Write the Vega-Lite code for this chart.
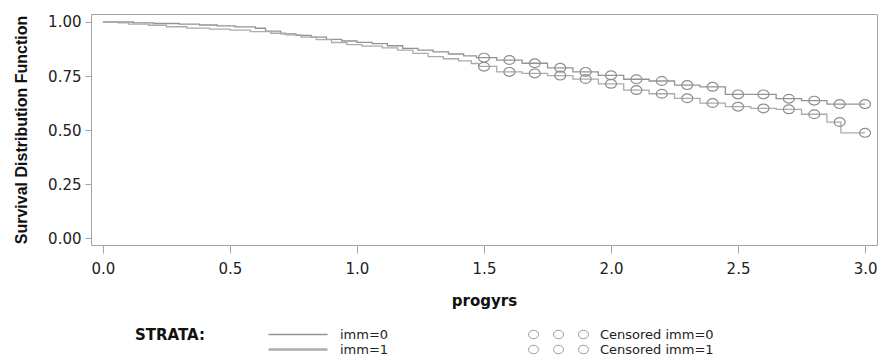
{
  "$schema": "https://vega.github.io/schema/vega-lite/v6.json",
  "width": 786,
  "height": 231,
  "autosize": {"type": "none"},
  "padding": {"left": 91, "top": 14, "right": 2, "bottom": 111},
  "background": "white",
  "config": {
    "view": {"stroke": "#a3a3b0", "strokeWidth": 1},
    "axis": {
      "domain": false,
      "grid": false,
      "tickColor": "#a3a3b0",
      "labelFont": "DejaVu Sans",
      "labelFontSize": 15,
      "labelColor": "#222222",
      "titleColor": "#111111"
    }
  },
  "datasets": {
    "curves": [
      {"t": 0.0, "s": 1.0, "strata": "imm=0"},
      {"t": 0.12, "s": 0.996, "strata": "imm=0"},
      {"t": 0.2, "s": 0.993, "strata": "imm=0"},
      {"t": 0.3, "s": 0.99, "strata": "imm=0"},
      {"t": 0.38, "s": 0.986, "strata": "imm=0"},
      {"t": 0.45, "s": 0.982, "strata": "imm=0"},
      {"t": 0.52, "s": 0.977, "strata": "imm=0"},
      {"t": 0.6, "s": 0.971, "strata": "imm=0"},
      {"t": 0.64, "s": 0.958, "strata": "imm=0"},
      {"t": 0.7, "s": 0.945, "strata": "imm=0"},
      {"t": 0.76, "s": 0.938, "strata": "imm=0"},
      {"t": 0.82, "s": 0.93, "strata": "imm=0"},
      {"t": 0.88, "s": 0.92, "strata": "imm=0"},
      {"t": 0.94, "s": 0.912, "strata": "imm=0"},
      {"t": 1.0, "s": 0.906, "strata": "imm=0"},
      {"t": 1.06, "s": 0.9, "strata": "imm=0"},
      {"t": 1.12, "s": 0.89, "strata": "imm=0"},
      {"t": 1.18, "s": 0.878, "strata": "imm=0"},
      {"t": 1.24, "s": 0.87, "strata": "imm=0"},
      {"t": 1.3, "s": 0.862, "strata": "imm=0"},
      {"t": 1.36, "s": 0.852, "strata": "imm=0"},
      {"t": 1.42, "s": 0.843, "strata": "imm=0"},
      {"t": 1.47, "s": 0.835, "strata": "imm=0"},
      {"t": 1.55, "s": 0.824, "strata": "imm=0"},
      {"t": 1.65, "s": 0.809, "strata": "imm=0"},
      {"t": 1.75, "s": 0.788, "strata": "imm=0"},
      {"t": 1.85, "s": 0.769, "strata": "imm=0"},
      {"t": 1.95, "s": 0.753, "strata": "imm=0"},
      {"t": 2.05, "s": 0.735, "strata": "imm=0"},
      {"t": 2.15, "s": 0.727, "strata": "imm=0"},
      {"t": 2.25, "s": 0.708, "strata": "imm=0"},
      {"t": 2.35, "s": 0.7, "strata": "imm=0"},
      {"t": 2.45, "s": 0.665, "strata": "imm=0"},
      {"t": 2.65, "s": 0.645, "strata": "imm=0"},
      {"t": 2.75, "s": 0.636, "strata": "imm=0"},
      {"t": 2.85, "s": 0.62, "strata": "imm=0"},
      {"t": 3.0, "s": 0.62, "strata": "imm=0"},
      {"t": 0.0, "s": 1.0, "strata": "imm=1"},
      {"t": 0.06, "s": 0.996, "strata": "imm=1"},
      {"t": 0.1, "s": 0.99, "strata": "imm=1"},
      {"t": 0.18, "s": 0.985, "strata": "imm=1"},
      {"t": 0.25, "s": 0.978, "strata": "imm=1"},
      {"t": 0.33, "s": 0.972, "strata": "imm=1"},
      {"t": 0.42, "s": 0.967, "strata": "imm=1"},
      {"t": 0.5, "s": 0.962, "strata": "imm=1"},
      {"t": 0.58, "s": 0.955, "strata": "imm=1"},
      {"t": 0.66, "s": 0.948, "strata": "imm=1"},
      {"t": 0.72, "s": 0.94, "strata": "imm=1"},
      {"t": 0.78, "s": 0.93, "strata": "imm=1"},
      {"t": 0.84, "s": 0.918, "strata": "imm=1"},
      {"t": 0.9, "s": 0.905, "strata": "imm=1"},
      {"t": 0.96, "s": 0.895, "strata": "imm=1"},
      {"t": 1.02, "s": 0.888, "strata": "imm=1"},
      {"t": 1.1, "s": 0.88, "strata": "imm=1"},
      {"t": 1.16, "s": 0.87, "strata": "imm=1"},
      {"t": 1.22, "s": 0.855, "strata": "imm=1"},
      {"t": 1.28, "s": 0.84, "strata": "imm=1"},
      {"t": 1.34, "s": 0.83, "strata": "imm=1"},
      {"t": 1.4, "s": 0.82, "strata": "imm=1"},
      {"t": 1.45, "s": 0.808, "strata": "imm=1"},
      {"t": 1.48, "s": 0.795, "strata": "imm=1"},
      {"t": 1.55, "s": 0.769, "strata": "imm=1"},
      {"t": 1.65, "s": 0.762, "strata": "imm=1"},
      {"t": 1.75, "s": 0.752, "strata": "imm=1"},
      {"t": 1.85, "s": 0.736, "strata": "imm=1"},
      {"t": 1.95, "s": 0.714, "strata": "imm=1"},
      {"t": 2.05, "s": 0.685, "strata": "imm=1"},
      {"t": 2.15, "s": 0.668, "strata": "imm=1"},
      {"t": 2.25, "s": 0.647, "strata": "imm=1"},
      {"t": 2.35, "s": 0.625, "strata": "imm=1"},
      {"t": 2.45, "s": 0.608, "strata": "imm=1"},
      {"t": 2.55, "s": 0.6, "strata": "imm=1"},
      {"t": 2.65, "s": 0.596, "strata": "imm=1"},
      {"t": 2.75, "s": 0.573, "strata": "imm=1"},
      {"t": 2.85, "s": 0.537, "strata": "imm=1"},
      {"t": 2.905, "s": 0.487, "strata": "imm=1"},
      {"t": 3.0, "s": 0.487, "strata": "imm=1"}
    ],
    "censored": [
      {"t": 1.5, "s": 0.835, "cens": "Censored imm=0"},
      {"t": 1.6, "s": 0.824, "cens": "Censored imm=0"},
      {"t": 1.7, "s": 0.809, "cens": "Censored imm=0"},
      {"t": 1.8, "s": 0.788, "cens": "Censored imm=0"},
      {"t": 1.9, "s": 0.769, "cens": "Censored imm=0"},
      {"t": 2.0, "s": 0.753, "cens": "Censored imm=0"},
      {"t": 2.1, "s": 0.735, "cens": "Censored imm=0"},
      {"t": 2.2, "s": 0.727, "cens": "Censored imm=0"},
      {"t": 2.3, "s": 0.708, "cens": "Censored imm=0"},
      {"t": 2.4, "s": 0.7, "cens": "Censored imm=0"},
      {"t": 2.5, "s": 0.665, "cens": "Censored imm=0"},
      {"t": 2.6, "s": 0.665, "cens": "Censored imm=0"},
      {"t": 2.7, "s": 0.645, "cens": "Censored imm=0"},
      {"t": 2.8, "s": 0.636, "cens": "Censored imm=0"},
      {"t": 2.9, "s": 0.62, "cens": "Censored imm=0"},
      {"t": 3.0, "s": 0.62, "cens": "Censored imm=0"},
      {"t": 1.5, "s": 0.793, "cens": "Censored imm=1"},
      {"t": 1.6, "s": 0.769, "cens": "Censored imm=1"},
      {"t": 1.7, "s": 0.762, "cens": "Censored imm=1"},
      {"t": 1.8, "s": 0.752, "cens": "Censored imm=1"},
      {"t": 1.9, "s": 0.736, "cens": "Censored imm=1"},
      {"t": 2.0, "s": 0.714, "cens": "Censored imm=1"},
      {"t": 2.1, "s": 0.685, "cens": "Censored imm=1"},
      {"t": 2.2, "s": 0.668, "cens": "Censored imm=1"},
      {"t": 2.3, "s": 0.647, "cens": "Censored imm=1"},
      {"t": 2.4, "s": 0.625, "cens": "Censored imm=1"},
      {"t": 2.5, "s": 0.608, "cens": "Censored imm=1"},
      {"t": 2.6, "s": 0.6, "cens": "Censored imm=1"},
      {"t": 2.7, "s": 0.596, "cens": "Censored imm=1"},
      {"t": 2.8, "s": 0.573, "cens": "Censored imm=1"},
      {"t": 2.9, "s": 0.537, "cens": "Censored imm=1"},
      {"t": 3.0, "s": 0.487, "cens": "Censored imm=1"}
    ]
  },
  "encoding": {
    "x": {
      "field": "t",
      "type": "quantitative",
      "scale": {"domain": [-0.047, 3.047], "nice": false, "zero": false},
      "axis": {
        "values": [0, 0.5, 1, 1.5, 2, 2.5, 3],
        "format": ".1f",
        "tickSize": 8,
        "labelPadding": 8,
        "title": "progyrs",
        "titleFont": "DejaVu Sans",
        "titleFontSize": 15,
        "titleFontWeight": "bold",
        "titlePadding": 17
      }
    },
    "y": {
      "field": "s",
      "type": "quantitative",
      "scale": {"domain": [-0.032, 1.037], "nice": false, "zero": false},
      "axis": {
        "values": [0, 0.25, 0.5, 0.75, 1],
        "format": ".2f",
        "tickSize": 6,
        "labelPadding": 4,
        "title": "Survival Distribution Function",
        "titleFont": "Liberation Sans",
        "titleFontSize": 16,
        "titleFontWeight": "bold",
        "titlePadding": 18
      }
    }
  },
  "layer": [
    {
      "data": {"name": "curves"},
      "mark": {"type": "line", "interpolate": "step-after", "strokeWidth": 1.3},
      "encoding": {
        "color": {
          "field": "strata",
          "type": "nominal",
          "scale": {"domain": ["imm=0", "imm=1"], "range": ["#939393", "#ababab"]},
          "legend": {
            "orient": "none",
            "legendX": 44,
            "legendY": 314,
            "title": "STRATA:",
            "titleOrient": "left",
            "titleAnchor": "start",
            "titleFont": "DejaVu Sans",
            "titleFontSize": 15,
            "titleFontWeight": "bold",
            "titleColor": "#111111",
            "titlePadding": 62,
            "symbolType": "M -1,0 L 10.8,0",
            "symbolSize": 100,
            "symbolStrokeWidth": 1.5,
            "labelOffset": 60,
            "labelFont": "DejaVu Sans",
            "labelFontSize": 13,
            "labelColor": "#222222",
            "rowPadding": 1,
            "encode": {
              "symbols": {"update": {"strokeWidth": {"signal": "datum.value === 'imm=1' ? 2.5 : 1.3"}}}
            }
          }
        }
      }
    },
    {
      "data": {"name": "censored"},
      "mark": {
        "type": "point",
        "filled": false,
        "stroke": "#8f8f8f",
        "strokeWidth": 1.2,
        "size": 121,
        "shape": "M -1,0 A 1,0.8 0 1,0 1,0 A 1,0.8 0 1,0 -1,0 Z"
      },
      "encoding": {
        "opacity": {
          "field": "cens",
          "type": "nominal",
          "scale": {"domain": ["Censored imm=0", "Censored imm=1"], "range": [1, 1]},
          "legend": {
            "orient": "none",
            "legendX": 436,
            "legendY": 314,
            "title": null,
            "symbolType": "M -1,0 A 1,0.85 0 1,0 1,0 A 1,0.85 0 1,0 -1,0 Z M 4,0 A 1,0.85 0 1,0 6,0 A 1,0.85 0 1,0 4,0 Z M 9,0 A 1,0.85 0 1,0 11,0 A 1,0.85 0 1,0 9,0 Z",
            "symbolSize": 100,
            "symbolStrokeColor": "#9a9a9a",
            "symbolFillColor": "transparent",
            "symbolStrokeWidth": 1,
            "labelOffset": 60,
            "labelFont": "DejaVu Sans",
            "labelFontSize": 13,
            "labelColor": "#222222",
            "rowPadding": 1
          }
        }
      }
    }
  ]
}
